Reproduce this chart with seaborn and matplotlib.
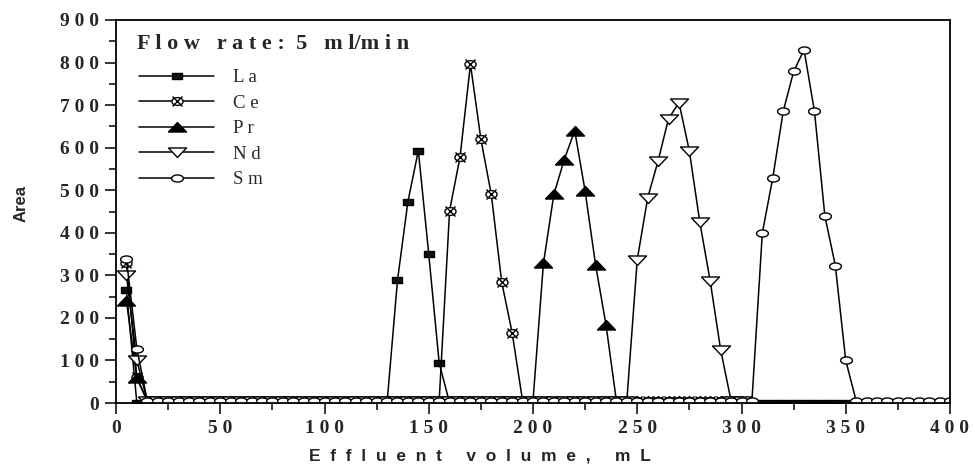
import numpy as np
import pandas as pd
import matplotlib
matplotlib.use("Agg")
import matplotlib.pyplot as plt
from matplotlib.lines import Line2D
from matplotlib.legend_handler import HandlerTuple
import seaborn as sns

# ---------------- data ----------------
volume_grid = [v for v in range(5, 405, 5)]          # sampled effluent volumes, mL

la_x = [5, 10, 135, 140, 145, 150, 155]
la_y = [265, 0, 288, 473, 593, 350, 94]
ce_x = [5, 10, 160, 165, 170, 175, 180, 185, 190]
ce_y = [330, 60, 452, 578, 796, 620, 490, 284, 165]
pr_x = [5, 10, 205, 210, 215, 220, 225, 230, 235]
pr_y = [240, 58, 328, 490, 572, 640, 498, 325, 184]
nd_x = [5, 10, 250, 255, 260, 265, 270, 275, 280, 285, 290]
nd_y = [300, 100, 337, 482, 569, 668, 706, 592, 425, 286, 125]
sm_x = [5, 10, 310, 315, 320, 325, 330, 335, 340, 345, 350]
sm_y = [338, 128, 400, 529, 685, 779, 830, 685, 439, 323, 100]

# baseline readings outside the peaks
baseline_level = {"La": 0, "Ce": 5, "Pr": 5, "Nd": 5, "Sm": 5}
baseline_end = {"La": 400, "Ce": 300, "Pr": 300, "Nd": 300, "Sm": 400}

series_names = ["La", "Ce", "Pr", "Nd", "Sm"]
legend_labels = ["L a", "C e", "P r", "N d", "S m"]

xticks = [0, 50, 100, 150, 200, 250, 300, 350, 400]
xtick_labels = ["0", "5 0", "1 0 0", "1 5 0", "2 0 0", "2 5 0", "3 0 0", "3 5 0", "4 0 0"]
yticks = [0, 100, 200, 300, 400, 500, 600, 700, 800, 900]
ytick_labels = ["0", "1 0 0", "2 0 0", "3 0 0", "4 0 0", "5 0 0", "6 0 0", "7 0 0", "8 0 0", "9 0 0"]

title_text = "F l o w   r a t e :  5   m l/m i n"
xlabel_text = "E  f  f  l  u  e  n  t     v  o  l  u  m  e  ,     m  L"
ylabel_text = "Area"

peaks = {"La": (la_x, la_y), "Ce": (ce_x, ce_y), "Pr": (pr_x, pr_y),
         "Nd": (nd_x, nd_y), "Sm": (sm_x, sm_y)}

rows = []
for name in series_names:
    px, py = peaks[name]
    vals = {v: baseline_level[name] for v in volume_grid if 15 <= v <= baseline_end[name]}
    for a, b in zip(px, py):
        vals[a] = b
    for a in sorted(vals):
        rows.append({"element": name, "volume": a, "area": vals[a]})
df = pd.DataFrame(rows)

# ---------------- markers ----------------
def ellipse(ax_w=1.0, ax_h=0.6, n=40):
    t = np.linspace(0, 2 * np.pi, n)
    return list(zip(ax_w * np.cos(t), ax_h * np.sin(t)))

rect = [(-1, -0.6), (1, -0.6), (1, 0.6), (-1, 0.6), (-1, -0.6)]
tri_up = [(-1, -0.5), (1, -0.5), (0, 0.55), (-1, -0.5)]
tri_dn = [(-1, 0.5), (1, 0.5), (0, -0.55), (-1, 0.5)]

styles = {
    "La": dict(marker=rect, markersize=7.5, markerfacecolor="#111111"),
    "Ce": dict(marker=ellipse(1.0, 0.7), markersize=8, markerfacecolor="white"),
    "Pr": dict(marker=tri_up, markersize=13, markerfacecolor="black"),
    "Nd": dict(marker=tri_dn, markersize=13, markerfacecolor="white"),
    "Sm": dict(marker=ellipse(1.0, 0.6), markersize=8.5, markerfacecolor="white"),
}

# ---------------- plot ----------------
sns.set_style("ticks")
fig = plt.figure(figsize=(9.75, 4.75), dpi=100)
ax = fig.add_axes([116 / 975, 1 - 403 / 475, (950 - 116) / 975, (403 - 20) / 475])

lw = 1.1
for name in series_names:
    d = df[df["element"] == name]
    sns.lineplot(data=d, x="volume", y="area", ax=ax, color="black", lw=lw,
                 markeredgecolor="black", markeredgewidth=1.0,
                 estimator=None, sort=True, legend=False, **styles[name])
    if name == "Ce":
        sns.lineplot(data=d, x="volume", y="area", ax=ax, color="black", lw=0,
                     marker="x", markersize=7, markeredgecolor="black",
                     markeredgewidth=1.0, estimator=None, legend=False)

ax.set_xlim(0, 400)
ax.set_ylim(0, 900)
ax.set_xticks(xticks)
ax.set_xticklabels(xtick_labels)
ax.set_yticks(yticks)
ax.set_yticklabels(ytick_labels)
ax.set_xticks([25, 75, 125, 175, 225, 275, 325, 375], minor=True)
ax.set_yticks([50, 150, 250, 350, 450, 550, 650, 750, 850], minor=True)
ax.tick_params(which="major", direction="out", length=8, width=1.3, pad=4,
               top=False, right=False)
ax.tick_params(which="minor", direction="out", length=5, width=1.3,
               top=False, right=False)
for lab in ax.get_xticklabels() + ax.get_yticklabels():
    lab.set_fontfamily("Liberation Serif")
    lab.set_fontweight("bold")
    lab.set_fontsize(14)
for s in ax.spines.values():
    s.set_linewidth(1.3)
    s.set_color("black")

ax.set_xlabel(xlabel_text, fontfamily="Liberation Sans", fontweight="bold", fontsize=12.5)
ax.xaxis.set_label_coords((480 - 116) / 834, -0.12)
ax.set_ylabel(ylabel_text, fontfamily="Liberation Sans", fontweight="bold", fontsize=12)
ax.yaxis.set_label_coords(-0.105, 0.52)

ax.text((137 - 116) / 834, (403 - 44) / 383, title_text, transform=ax.transAxes,
        fontfamily="Liberation Serif", fontweight="bold", fontsize=16, va="center", ha="left")

handles = []
for name in series_names:
    h = Line2D([0], [0], color="black", lw=lw, markeredgecolor="black",
               markeredgewidth=1.0, **styles[name])
    if name == "Ce":
        hx = Line2D([0], [0], color="black", lw=0, marker="x", markersize=7,
                    markeredgecolor="black", markeredgewidth=1.0)
        h = (h, hx)
    handles.append(h)
ax.legend(handles, legend_labels, loc="upper left",
          bbox_to_anchor=((139 - 116) / 834, (403 - 69) / 383),
          frameon=False, borderpad=0, borderaxespad=0, handlelength=4.0,
          handletextpad=1.0, labelspacing=0.45, numpoints=1,
          handler_map={tuple: HandlerTuple(ndivide=1)},
          prop={"family": "Liberation Serif", "size": 13.5})

fig.savefig("out.png", dpi=100)
